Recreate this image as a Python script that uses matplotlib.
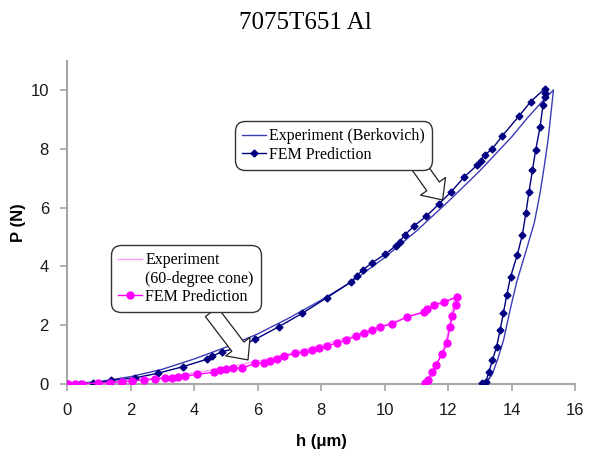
import matplotlib
matplotlib.use("Agg")
import matplotlib.pyplot as plt
from matplotlib.lines import Line2D

# Berkovich - FEM prediction (load then unload)
berk_fem_h = [0, 0.4, 0.83, 1.39, 2.15, 2.88, 3.65, 4.4, 4.58, 4.88, 5.3, 5.93, 6.67, 7.4,
              8.19, 8.93, 9.12, 9.32, 9.61, 10.03, 10.35, 10.48, 10.64, 10.92, 11.32, 11.71,
              12.1, 12.5, 12.92, 13.03, 13.16, 13.4, 13.71, 14.24, 14.6, 15.05,
              15.05, 15.05, 14.99, 14.9, 14.76, 14.66, 14.55, 14.45, 14.34, 14.18, 13.97,
              13.85, 13.74, 13.64, 13.53, 13.4, 13.29, 13.19, 13.08]
berk_fem_p = [0, 0.01, 0.03, 0.12, 0.21, 0.37, 0.59, 0.84, 0.95, 1.1, 1.21, 1.52, 1.95, 2.4,
              2.94, 3.46, 3.68, 3.88, 4.13, 4.42, 4.7, 4.84, 5.07, 5.37, 5.71, 6.12,
              6.54, 7.03, 7.45, 7.6, 7.79, 8.01, 8.44, 9.12, 9.6, 10.05,
              9.9, 9.75, 9.49, 8.75, 7.96, 7.28, 6.54, 5.8, 5.07, 4.39, 3.65,
              3.03, 2.4, 1.84, 1.27, 0.82, 0.42, 0.08, 0.02]

# Berkovich - experiment
berk_exp_h = [0, 1, 2, 3, 4, 5, 6, 7, 8, 9, 10, 11, 12, 13, 14, 14.5, 15, 15.32,
              15.25, 15.15, 15.03, 14.9, 14.72, 14.45, 14.17, 13.95, 13.75, 13.55,
              13.38, 13.2, 13.05, 13.1, 13.25, 13.3]
berk_exp_p = [0, 0.08, 0.25, 0.5, 0.85, 1.25, 1.7, 2.25, 2.85, 3.5, 4.3, 5.2, 6.2, 7.25, 8.4, 9.05, 9.65, 10.0,
              9.3, 8.3, 7.4, 6.5, 5.5, 4.5, 3.5, 2.5, 1.5, 0.8,
              0.3, 0.05, 0.0, 0.0, 0.1, 0.2]

# 60-degree cone - FEM prediction
cone_fem_h = [0.04, 0.25, 0.46, 0.99, 1.36, 1.73, 2.04, 2.41, 2.78, 3.09, 3.3, 3.51, 3.72, 4.09,
              4.62, 4.83, 5.0, 5.23, 5.51, 5.93, 6.2, 6.4, 6.62, 6.83, 7.19, 7.45, 7.7, 7.95,
              8.2, 8.5, 8.8, 9.1, 9.35, 9.6, 9.87, 10.24, 10.72, 11.24, 11.35, 11.56, 11.87, 12.27,
              12.24, 12.13, 12.06, 11.96, 11.82, 11.61, 11.5, 11.38, 11.26]
cone_fem_p = [0, 0, 0.01, 0.03, 0.05, 0.08, 0.11, 0.14, 0.17, 0.21, 0.22, 0.25, 0.27, 0.33,
              0.4, 0.48, 0.51, 0.53, 0.55, 0.7, 0.73, 0.79, 0.84, 0.95, 1.04, 1.1, 1.16, 1.22,
              1.3, 1.4, 1.5, 1.63, 1.73, 1.84, 1.95, 2.04, 2.29, 2.44, 2.54, 2.69, 2.8, 2.95,
              2.69, 2.31, 1.95, 1.38, 1.02, 0.65, 0.42, 0.14, 0.02]

# 60-degree cone - experiment
cone_exp_h = [0, 1, 2, 3, 4, 5, 6, 7, 8, 9, 10, 11, 11.8, 12.2,
              12.15, 12.05, 11.9, 11.7, 11.5, 11.35, 11.28]
cone_exp_p = [0, 0.03, 0.1, 0.22, 0.38, 0.56, 0.78, 1.03, 1.32, 1.64, 2.0, 2.38, 2.72, 2.93,
              2.6, 2.0, 1.35, 0.8, 0.35, 0.08, 0]

navy = "#000080"
blue = "#3b3bb4"
magenta = "#ff00ff"
pink = "#ff9cff"
grey = "#a6a6a6"

fig = plt.figure(figsize=(5.99, 4.57), dpi=100)
ax = fig.add_axes([0.1119, 0.1597, 0.8481, 0.7077])

ax.plot(berk_exp_h, berk_exp_p, color=blue, lw=1.0, zorder=2)
ax.plot(berk_fem_h, berk_fem_p, color=navy, lw=1.0, marker="D", ms=3.5, zorder=3)
ax.plot(cone_exp_h, cone_exp_p, color=pink, lw=1.0, zorder=2)
ax.plot(cone_fem_h, cone_fem_p, color=magenta, lw=1.0, marker="o", ms=5, zorder=3)

ax.set_xlim(0, 16)
ax.set_ylim(0, 11)
ax.set_xticks(range(0, 17, 2))
ax.set_yticks(range(0, 11, 2))
for s in ["top", "right"]:
    ax.spines[s].set_visible(False)
for s in ["left", "bottom"]:
    ax.spines[s].set_color(grey)
    ax.spines[s].set_linewidth(1.5)
ax.tick_params(colors=grey, length=5, width=1.2, labelcolor="#1a1a1a", labelsize=12,
               labelfontfamily="Liberation Sans")
ax.tick_params(axis="x", pad=9)
ax.tick_params(axis="y", pad=8)

ax.set_xlabel("h (\u03bcm)", fontsize=12, fontweight="bold", family="Liberation Sans", labelpad=11)
ax.set_ylabel("P (N)", fontsize=12, fontweight="bold", family="Liberation Sans", labelpad=3)
fig.text(0.51, 0.949, "7075T651 Al", ha="center", va="center", fontsize=18,
         family="Liberation Serif")

# callout arrows
arrow_style = "simple,head_length=0.6,head_width=1.1,tail_width=0.55"
ax.annotate("", xy=(11.83, 6.26), xytext=(11.05, 7.45),
            arrowprops=dict(arrowstyle=arrow_style, fc="white", ec="#222222", lw=0.9,
                            mutation_scale=20, shrinkA=0, shrinkB=0), zorder=5)
ax.annotate("", xy=(5.7, 0.82), xytext=(4.55, 2.45),
            arrowprops=dict(arrowstyle=arrow_style, fc="white", ec="#222222", lw=0.9,
                            mutation_scale=20, shrinkA=0, shrinkB=0), zorder=5)

font = {"family": "Liberation Serif", "size": 11.5}

h1 = [Line2D([], [], color=blue, lw=1.0),
      Line2D([], [], color=navy, lw=1.0, marker="D", ms=3.5)]
leg1 = ax.legend(h1, ["Experiment (Berkovich)", "FEM Prediction"], loc="upper left",
                 bbox_to_anchor=(235 / 599, 1 - 121 / 457), bbox_transform=fig.transFigure,
                 prop=font, handlelength=1.5, handletextpad=0.2, borderpad=0.45,
                 labelspacing=0.15, borderaxespad=0, fancybox=True, framealpha=1,
                 edgecolor="#333333")
leg1.get_frame().set_linewidth(1.0)
leg1.get_frame().set_boxstyle("round,pad=0,rounding_size=0.6")
leg1.set_zorder(6)
ax.add_artist(leg1)

# second row of the cone label has no handle of its own
h2 = [Line2D([], [], color=pink, lw=1.0),
      Line2D([], [], color="none", lw=0),
      Line2D([], [], color=magenta, lw=1.0, marker="o", ms=5)]
leg2 = ax.legend(h2, ["Experiment", "(60-degree cone)", "FEM Prediction"], loc="upper left",
                 bbox_to_anchor=(111 / 599, 1 - 245 / 457), bbox_transform=fig.transFigure,
                 prop=font, handlelength=1.5, handletextpad=0.2, borderpad=0.45,
                 labelspacing=0.15, borderaxespad=0, fancybox=True, framealpha=1,
                 edgecolor="#333333")
leg2.get_frame().set_linewidth(1.0)
leg2.get_frame().set_boxstyle("round,pad=0,rounding_size=0.6")
leg2.set_zorder(6)

plt.savefig("out.png", dpi=100)
